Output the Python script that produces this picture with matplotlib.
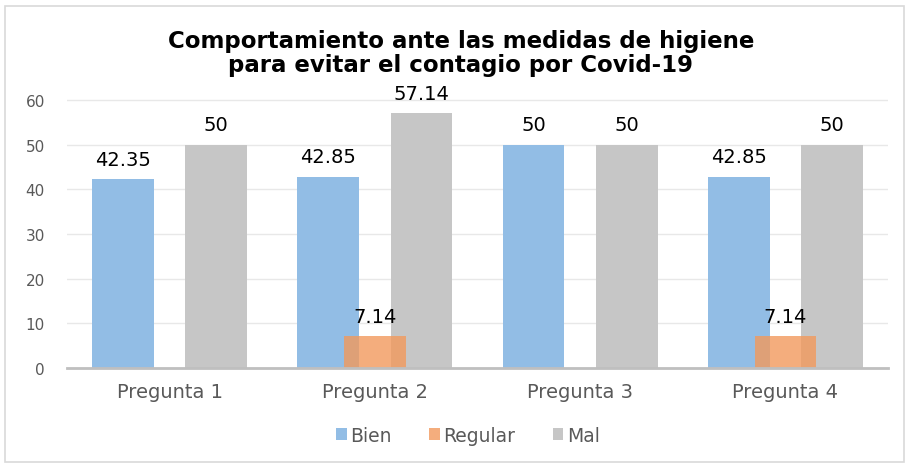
import matplotlib.pyplot as plt
import numpy as np
from matplotlib.patches import Rectangle

preguntas = ["Pregunta 1", "Pregunta 2", "Pregunta 3", "Pregunta 4"]
bien = [42.35, 42.85, 50, 42.85]
regular = [0, 7.14, 0, 7.14]
mal = [50, 57.14, 50, 50]

fig = plt.figure(figsize=(9.09, 4.64), dpi=100)
ax = fig.add_axes([67/909, 1 - 369/464, 821/909, 268/464 * 70/60])

x = np.arange(len(preguntas))
w = 0.30
off = 0.227

ax.bar(x - off, bien, w, color='#92BDE5', label='Bien', zorder=2)
ax.bar(x + off, mal, w, color='#C6C6C6', label='Mal', zorder=2)
ax.bar(x, regular, w, color='#F2995C', alpha=0.8, label='Regular', zorder=3)

for i in range(len(x)):
    ax.text(x[i] - off, bien[i] + 2.3, f"{bien[i]:g}", ha='center', va='bottom', fontsize=14, zorder=5)
    ax.text(x[i] + off, mal[i] + 2.3, f"{mal[i]:g}", ha='center', va='bottom', fontsize=14, zorder=5)
    if regular[i] > 0:
        ax.text(x[i], regular[i] + 2.3, f"{regular[i]:g}", ha='center', va='bottom', fontsize=14, zorder=5)

ax.set_xlim(-0.5, 3.5)
ax.set_ylim(0, 70)
ax.set_yticks(range(0, 70, 10))
ax.set_xticks(x)
ax.set_xticklabels(preguntas, fontsize=14, color='#595959')
ax.tick_params(axis='y', labelsize=11, colors='#595959', length=0, pad=16)
ax.tick_params(axis='x', length=0, pad=10)
ax.grid(axis='y', color='#E8E8E8', linewidth=1, zorder=0)
ax.set_axisbelow(True)
for s in ['top', 'right', 'left']:
    ax.spines[s].set_visible(False)
ax.spines['bottom'].set_color('#BFBFBF')
ax.spines['bottom'].set_linewidth(2)
ax.spines['bottom'].set_zorder(4)

fig.text(0.507, 0.885, "Comportamiento ante las medidas de higiene\npara evitar el contagio por Covid-19",
         ha='center', va='center', fontsize=16.5, fontweight='bold', linespacing=1.05)

h, l = ax.get_legend_handles_labels()
order = [0, 2, 1]
fig.legend([h[i] for i in order], [l[i] for i in order], loc='center', bbox_to_anchor=(0.515, 0.06),
           ncol=3, frameon=False, fontsize=13.5, handlelength=0.55, handleheight=0.55,
           handletextpad=0.2, columnspacing=2.0, labelcolor='#595959')

fig.patches.append(Rectangle((5/909, 0.002), 1 - 10/909, 1 - 8/464, transform=fig.transFigure,
                             fill=False, edgecolor='#D9D9D9', linewidth=1.2))

fig.savefig('out.png', dpi=100)
